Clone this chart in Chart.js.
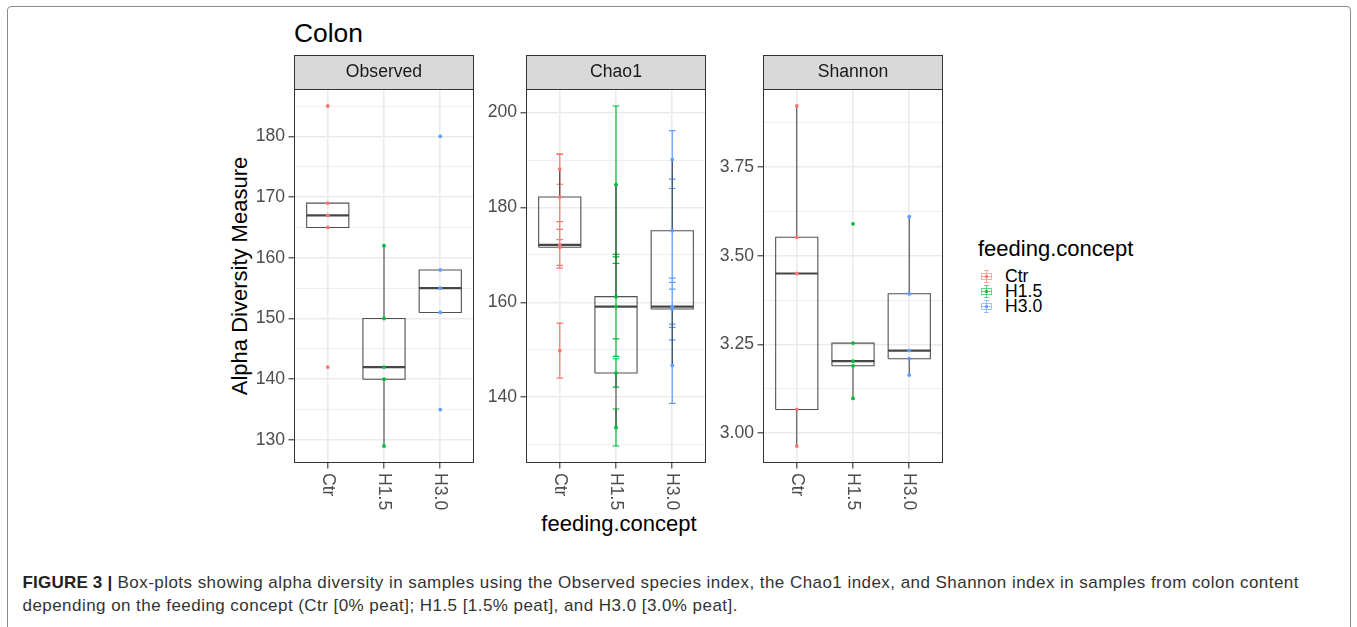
<!DOCTYPE html>
<html>
<head>
<meta charset="utf-8">
<script src="https://cdn.jsdelivr.net/npm/chart.js@4.4.0/dist/chart.umd.min.js"></script>
<style>
  body { margin: 0; width: 1357px; height: 627px; overflow: hidden; background: #fff;
         font-family: "Liberation Sans", Arial, Helvetica, sans-serif; position: relative; }
  .frame { position: absolute; left: 7px; top: 6px; width: 1342px; height: 700px;
           border: 1px solid #8c8c8c; border-radius: 4px; }
  canvas.panel { position: absolute; top: 50px; }
  #title { position: absolute; left: 294px; top: 20.3px; font-size: 26.4px; line-height: 26.4px; color: #000; }
  #ytitle { position: absolute; left: 90px; top: 265px; width: 300px; text-align: center;
            font-size: 22px; line-height: 22px; transform: rotate(-90deg); color: #000; }
  #xtitle { position: absolute; left: 469px; top: 513.4px; width: 300px; text-align: center;
            font-size: 22px; line-height: 22px; color: #000; }
  #legend { position: absolute; left: 978px; top: 238.4px; }
  #legend .lt { font-size: 22px; line-height: 22px; margin-bottom: 8.5px; }
  #legend .item { height: 15px; line-height: 15px; font-size: 17.6px; position: relative; }
  #legend .item canvas { position: absolute; left: 1px; top: 0; }
  #legend .item span { position: absolute; left: 27px; top: 0; white-space: nowrap; }
  #caption { position: absolute; left: 22.5px; top: 570.5px; font-size: 17px; line-height: 23px;
             letter-spacing: 0.45px; color: #333; white-space: nowrap; }
  #caption b { color: #222; letter-spacing: 0.2px; }
</style>
</head>
<body>
<div class="frame"></div>
<div id="title">Colon</div>
<div id="ytitle">Alpha Diversity Measure</div>
<div id="xtitle">feeding.concept</div>
<canvas class="panel" id="observed" width="234" height="480" style="left:244px"></canvas>
<canvas class="panel" id="chao1" width="234" height="480" style="left:476px"></canvas>
<canvas class="panel" id="shannon" width="234" height="480" style="left:713px"></canvas>
<div id="legend"><div class="lt">feeding.concept</div></div>
<div id="caption"><b>FIGURE 3 |</b> Box-plots showing alpha diversity in samples using the Observed species index, the Chao1 index, and Shannon index in samples from colon content<br>depending on the feeding concept (Ctr [0% peat]; H1.5 [1.5% peat], and H3.0 [3.0% peat].</div>

<script>
const groups = ['Ctr', 'H1.5', 'H3.0'];
const groupColors = ['#F8766D', '#00BA38', '#619CFF'];

// Observed species per sample
const observedCtr = [185, 169, 167, 165, 142];
const observedH15 = [162, 150, 142, 140, 129];
const observedH30 = [180, 158, 155, 151, 135];

// Chao1 estimate and its standard error
const chao1Ctr = [188.1, 182.2, 172.1, 171.6, 149.8];
const chao1SeCtr = [3.2, 9.0, 4.9, 3.8, 5.8];
const chao1H15 = [184.8, 161.2, 159.1, 145.1, 133.6];
const chao1SeH15 = [16.6, 8.9, 10.5, 3.0, 3.9];
const chao1H30 = [190.1, 175.1, 159.1, 158.6, 146.7];
const chao1SeH30 = [6.1, 10.9, 3.7, 6.5, 8.0];

// Shannon index
const shannonCtr = [3.922, 3.552, 3.450, 3.067, 2.964];
const shannonH15 = [3.590, 3.254, 3.203, 3.190, 3.098];
const shannonH30 = [3.610, 3.393, 3.233, 3.210, 3.164];

// y axis tick labels
const observedTicks = [130, 140, 150, 160, 170, 180];
const chao1Ticks = [140, 160, 180, 200];
const shannonTicks = [3.00, 3.25, 3.50, 3.75];

const FONT = '"Liberation Sans", Arial, Helvetica, sans-serif';
Chart.defaults.font.family = FONT;

function quantile(sorted, p) {
  const h = (sorted.length - 1) * p;
  const lo = Math.floor(h);
  return sorted[lo] + (h - lo) * ((sorted[lo + 1] ?? sorted[lo]) - sorted[lo]);
}

function boxStats(values) {
  const s = [...values].sort((a, b) => a - b);
  const q1 = quantile(s, 0.25), med = quantile(s, 0.5), q3 = quantile(s, 0.75);
  const iqr = q3 - q1;
  const lowW = Math.min(...s.filter(v => v >= q1 - 1.5 * iqr));
  const highW = Math.max(...s.filter(v => v <= q3 + 1.5 * iqr));
  return { q1, med, q3, lowW: Math.min(lowW, q1), highW: Math.max(highW, q3) };
}

const BREAK = (x) => ({ x, y: null });
const HALF = 0.375;
const CAP = 0.06;

const panelDecor = {
  id: 'panelDecor',
  afterDraw(chart, args, opts) {
    const { ctx, chartArea: a, scales: { x } } = chart;
    ctx.save();
    ctx.fillStyle = '#D9D9D9';
    ctx.fillRect(a.left, a.top - 34, a.width, 34);
    ctx.strokeStyle = '#333';
    ctx.lineWidth = 1;
    ctx.strokeRect(a.left + 0.5, a.top - 33.5, a.width - 1, 34);
    ctx.strokeRect(a.left + 0.5, a.top + 0.5, a.width - 1, a.height - 1);
    ctx.fillStyle = '#1A1A1A';
    ctx.font = '17.6px ' + FONT;
    ctx.textAlign = 'center';
    ctx.textBaseline = 'middle';
    ctx.fillText(opts.title, (a.left + a.right) / 2, a.top - 16.5);
    ctx.fillStyle = '#4D4D4D';
    groups.forEach((g, i) => {
      ctx.save();
      ctx.translate(x.getPixelForValue(i + 1), a.bottom + 10);
      ctx.rotate(Math.PI / 2);
      ctx.textAlign = 'left';
      ctx.fillText(g, 0, 0);
      ctx.restore();
    });
    ctx.restore();
  }
};

function makePanel(id, title, series, errors, majors, digits) {
  let lo = Infinity, hi = -Infinity;
  series.forEach((vals, i) => vals.forEach((v, j) => {
    const e = errors ? errors[i][j] : 0;
    lo = Math.min(lo, v - e);
    hi = Math.max(hi, v + e);
  }));
  const pad = (hi - lo) * 0.05;
  const yMin = lo - pad, yMax = hi + pad;

  const step = majors[1] - majors[0];
  const tickList = [];
  majors.forEach(v => { if (v >= yMin && v <= yMax) tickList.push({ value: v }); });
  for (let v = majors[0] - step / 2; v <= yMax; v += step) {
    if (v >= yMin) tickList.push({ value: v, minor: true });
  }
  tickList.sort((a, b) => a.value - b.value);

  const datasets = [];
  // points
  series.forEach((vals, i) => {
    datasets.push({
      data: vals.map(v => ({ x: i + 1, y: v })),
      pointRadius: 1.9, pointBackgroundColor: groupColors[i], pointBorderWidth: 0,
      order: 0
    });
  });
  // boxes, medians, whiskers
  series.forEach((vals, i) => {
    const b = boxStats(vals);
    const x = i + 1;
    datasets.push({
      data: [
        { x: x - HALF, y: b.q1 }, { x: x + HALF, y: b.q1 }, { x: x + HALF, y: b.q3 },
        { x: x - HALF, y: b.q3 }, { x: x - HALF, y: b.q1 }, BREAK(x),
        { x, y: b.q3 }, { x, y: b.highW }, BREAK(x),
        { x, y: b.q1 }, { x, y: b.lowW }
      ],
      showLine: true, spanGaps: false, pointRadius: 0,
      borderColor: 'rgba(51,51,51,0.85)', borderWidth: 1.1, order: 1
    });
    datasets.push({
      data: [{ x: x - HALF, y: b.med }, { x: x + HALF, y: b.med }],
      showLine: true, pointRadius: 0,
      borderColor: 'rgba(51,51,51,0.9)', borderWidth: 2.2, order: 1
    });
  });
  // error bars
  if (errors) {
    series.forEach((vals, i) => {
      const x = i + 1;
      const data = [];
      vals.forEach((v, j) => {
        const top = v + errors[i][j], bot = v - errors[i][j];
        data.push({ x: x - CAP, y: top }, { x: x + CAP, y: top }, BREAK(x),
                  { x, y: top }, { x, y: bot }, BREAK(x),
                  { x: x - CAP, y: bot }, { x: x + CAP, y: bot }, BREAK(x));
      });
      datasets.push({
        data, showLine: true, spanGaps: false, pointRadius: 0,
        borderColor: groupColors[i], borderWidth: 1.2, order: 2
      });
    });
  }

  new Chart(document.getElementById(id), {
    type: 'scatter',
    data: { datasets },
    plugins: [panelDecor],
    options: {
      responsive: false,
      animation: false,
      events: [],
      layout: { padding: { top: 39, right: 3, left: 0, bottom: 0 } },
      plugins: { legend: { display: false }, tooltip: { enabled: false }, panelDecor: { title } },
      scales: {
        x: {
          type: 'linear', min: 0.4, max: 3.6,
          afterBuildTicks: s => { s.ticks = groups.map((g, i) => ({ value: i + 1 })); },
          afterFit: s => { s.height = 67; },
          ticks: { display: false },
          grid: { color: '#EBEBEB', lineWidth: 1.6, tickColor: '#333', tickLength: 5.5, tickWidth: 1.1 },
          border: { display: false }
        },
        y: {
          min: yMin, max: yMax,
          afterBuildTicks: s => { s.ticks = tickList; },
          afterFit: s => { s.width = 50; },
          ticks: {
            autoSkip: false, padding: 3.5, color: '#4D4D4D', font: { size: 17.6 },
            callback: (v, i, t) => t[i].minor ? '' : v.toFixed(digits)
          },
          grid: {
            color: '#EBEBEB',
            lineWidth: c => (c.tick && c.tick.minor) ? 0.8 : 1.6,
            tickColor: c => (c.tick && c.tick.minor) ? 'rgba(0,0,0,0)' : '#333',
            tickLength: 5.5, tickWidth: 1.1
          },
          border: { display: false }
        }
      }
    }
  });
}

makePanel('observed', 'Observed', [observedCtr, observedH15, observedH30], null, observedTicks, 0);
makePanel('chao1', 'Chao1', [chao1Ctr, chao1H15, chao1H30], [chao1SeCtr, chao1SeH15, chao1SeH30], chao1Ticks, 0);
makePanel('shannon', 'Shannon', [shannonCtr, shannonH15, shannonH30], null, shannonTicks, 2);

// legend keys
const legend = document.getElementById('legend');
groups.forEach((g, i) => {
  const item = document.createElement('div');
  item.className = 'item';
  const c = document.createElement('canvas');
  c.width = 15; c.height = 15;
  const k = c.getContext('2d');
  k.globalAlpha = 0.6;
  k.strokeStyle = groupColors[i];
  k.lineWidth = 1;
  k.strokeRect(2.5, 4.5, 10, 6);
  k.beginPath();
  k.moveTo(7.5, 1); k.lineTo(7.5, 14);
  k.moveTo(5, 1.5); k.lineTo(10, 1.5);
  k.moveTo(5, 13.5); k.lineTo(10, 13.5);
  k.moveTo(2.5, 7.5); k.lineTo(12.5, 7.5);
  k.stroke();
  k.globalAlpha = 1;
  k.fillStyle = groupColors[i];
  k.beginPath(); k.arc(7.5, 7.5, 1.7, 0, Math.PI * 2); k.fill();
  const s = document.createElement('span');
  s.textContent = g;
  item.appendChild(c);
  item.appendChild(s);
  legend.appendChild(item);
});
</script>
</body>
</html>
